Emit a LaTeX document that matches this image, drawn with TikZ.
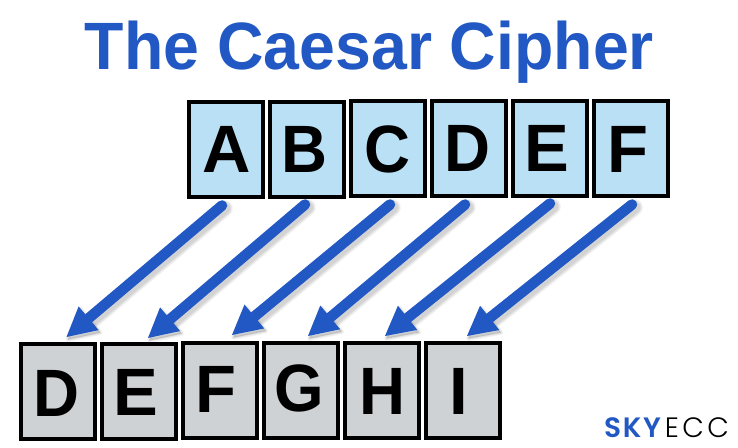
\documentclass[tikz,border=0pt]{standalone}
\usepackage{fontspec}
\setmainfont{Liberation Sans}
\newfontfamily\logobold[LetterSpace=6]{Poppins SemiBold}
\newfontfamily\logolight[LetterSpace=12]{Poppins Light}
\usetikzlibrary{calc}
\definecolor{cblue}{HTML}{2158C4}
\definecolor{ctop}{HTML}{BAE0F5}
\definecolor{cbot}{HTML}{CFD2D5}
\tikzset{
 x=1pt,y=-1pt,
 cell/.style={draw=black,line width=4pt,minimum width=74pt,minimum height=95pt,inner sep=0pt,outer sep=0pt},
 topcell/.style={cell,fill=ctop},
 botcell/.style={cell,fill=cbot},
 letter/.style={anchor=base,inner sep=0pt,font=\fontsize{67}{67}\selectfont\bfseries},
 narrow/.style={letter,xscale=0.95},
 shaft/.style={draw=cblue,line width=10.5pt,line cap=round},
 head/.style={fill=cblue},
 soft/.style={black,opacity=0.035,line cap=round,line join=round},
}
% start, tip
\newcommand{\bluearrow}[2]{%
 \path let \p1=($(#1)-(#2)$), \n1={veclen(\x1,\y1)} in
   coordinate (HL) at ($(#2)+({(29*\x1-15.5*\y1)/\n1*1pt},{(29*\y1+15.5*\x1)/\n1*1pt})$)
   coordinate (HR) at ($(#2)+({(29*\x1+15.5*\y1)/\n1*1pt},{(29*\y1-15.5*\x1)/\n1*1pt})$);%
 \foreach \w in {17,15.5,14,12.5,11}{\draw[soft,line width=\w pt] ($(#1)+(2.5,3)$) -- ($(#2)!0.15!(#1)+(2.5,3)$);}%
 \foreach \w in {5,3.5,2,1}{\draw[soft,fill=black,line width=\w pt] ($(#2)+(1.5,2.5)$) -- ($(HL)+(1.5,2.5)$) -- ($(HR)+(1.5,2.5)$) -- cycle;}%
 \draw[shaft] (#1) -- ($(#2)!0.12!(#1)$);%
 \fill[head] (#2) -- (HL) -- (HR) -- cycle;%
}
\begin{document}
\begin{tikzpicture}
\useasboundingbox (0,0) rectangle (738,447);
\fill[white] (0,0) rectangle (738,447);
\node[anchor=base,inner sep=0pt,yscale=1.04,text=cblue,font=\fontsize{64.4}{64.4}\selectfont\bfseries] (title) at (369.5,69) {The Caesar Cipher};
\node[topcell] (a) at (226,149.5) {};
\node[topcell] (b) at (307,149.5) {};
\node[topcell] (c) at (388,148.5) {};
\node[topcell] (d) at (469,148.5) {};
\node[topcell] (e) at (550,148.5) {};
\node[topcell] (f) at (631,148.5) {};
\node[botcell] (p) at (58,391.5) {};
\node[botcell] (q) at (139,391.5) {};
\node[botcell] (r) at (220,390.5) {};
\node[botcell] (s) at (301,390.5) {};
\node[botcell] (t) at (382,390.5) {};
\node[botcell] (u) at (463,390.5) {};
\node[letter] (la) at (226.5,172) {A};
\node[narrow] (lb) at (304.5,172) {B};
\node[narrow] (lc) at (387.5,172) {C};
\node[narrow] (ld) at (467.5,171) {D};
\node[letter] (le) at (547,171) {E};
\node[letter] (lf) at (627.5,172) {F};
\node[narrow] (lp) at (56,416) {D};
\node[letter] (lq) at (136,415) {E};
\node[letter] (lr) at (215.5,412) {F};
\node[narrow] (ls) at (299,411) {G};
\node[narrow] (lt) at (382,414) {H};
\node[letter] (lu) at (459,414) {I};
\coordinate (a1) at ($(a.south)+(-4,8.5)$); \coordinate (p1) at ($(p.north)+(8.5,-7)$);
\coordinate (b1) at ($(b.south)+(-2,7.5)$); \coordinate (q1) at ($(q.north)+(9,-6)$);
\coordinate (c1) at ($(c.south)+(2,8.5)$); \coordinate (r1) at ($(r.north)+(12,-8)$);
\coordinate (d1) at ($(d.south)+(-4,8.5)$); \coordinate (s1) at ($(s.north)+(7,-7)$);
\coordinate (e1) at ($(e.south)+(0,7.5)$); \coordinate (t1) at ($(t.north)+(3,-7)$);
\coordinate (f1) at ($(f.south)+(1,8.5)$); \coordinate (u1) at ($(u.north)+(4,-7)$);
\bluearrow{a1}{p1}
\bluearrow{b1}{q1}
\bluearrow{c1}{r1}
\bluearrow{d1}{s1}
\bluearrow{e1}{t1}
\bluearrow{f1}{u1}
\node[anchor=base west,inner sep=0pt,font=\fontsize{28}{28}\selectfont] (logo) at (604,437) {\textcolor{cblue}{\logobold SKY}\hspace{4pt}{\logolight ECC}};
\end{tikzpicture}
\end{document}
